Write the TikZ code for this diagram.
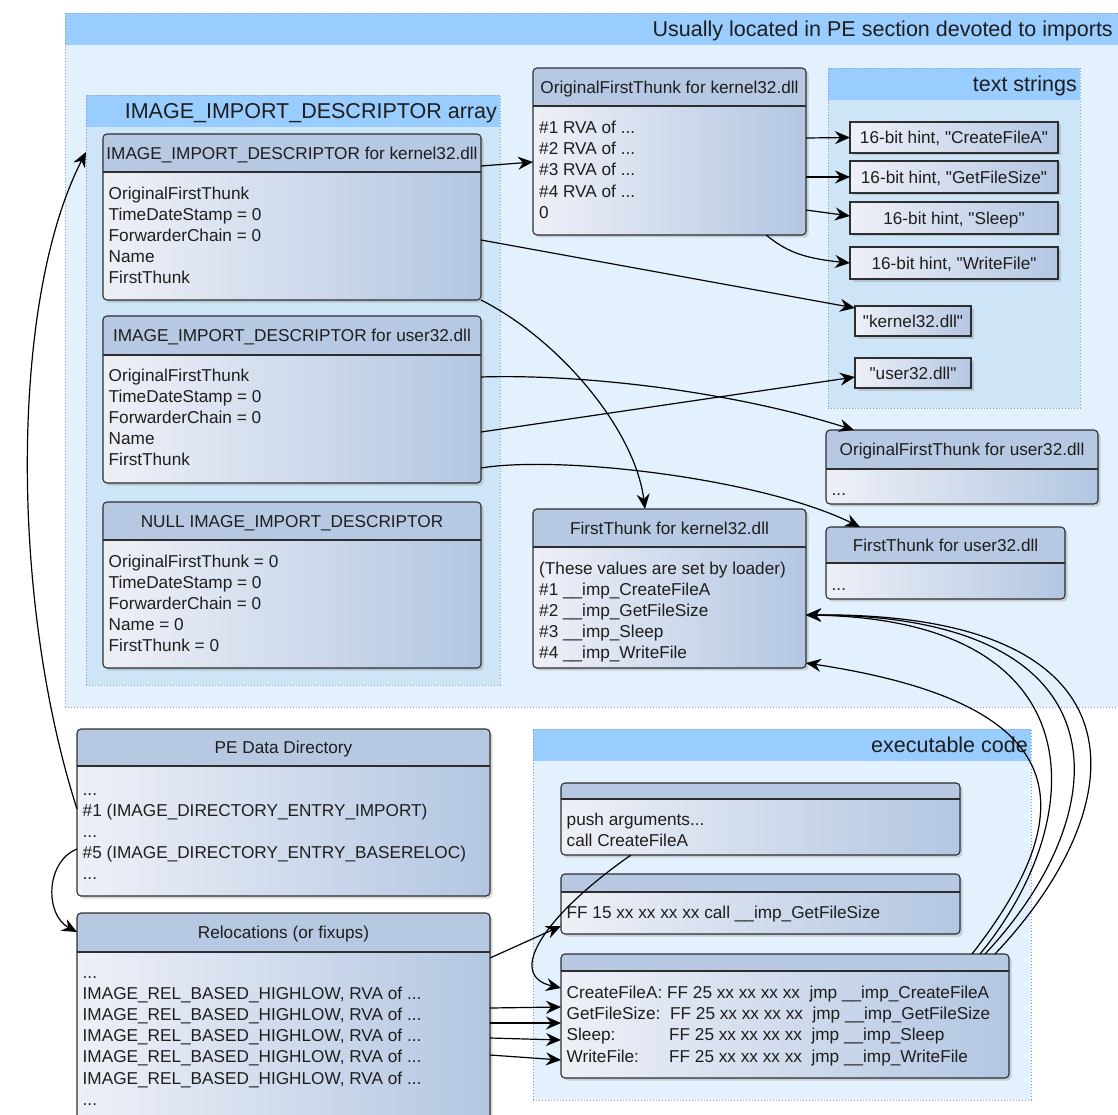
\documentclass[tikz,border=0pt]{standalone}
\usepackage{fontspec}
\newfontfamily\lsans{Liberation Sans}
\usetikzlibrary{calc,shadows,arrows.meta}
\definecolor{outerbg}{HTML}{E2F1FD}
\definecolor{bandcol}{HTML}{99CCFF}
\definecolor{arrbg}{HTML}{CDE5F6}
\definecolor{dotcol}{HTML}{8A9BC2}
\definecolor{hdrcol}{HTML}{B6C8E2}
\definecolor{bodyL}{HTML}{EEF0F7}
\definecolor{bodyR}{HTML}{B3C6E2}
\definecolor{boxline}{HTML}{2E2E2E}
\definecolor{txtcol}{HTML}{1E1E1E}
\newcommand{\myBody}{\lsans\fontsize{17.2}{21.2}\selectfont}
\newcommand{\myTitle}{\lsans\fontsize{21.5}{26}\selectfont}
\tikzset{myarrowtip/.tip={Stealth[length=15pt, width=13pt, inset=5pt]}}
\begin{document}
\begin{tikzpicture}[x=1pt,y=-1pt,
 cont/.style={draw=dotcol, dash pattern=on 1pt off 2pt, line width=0.9pt, fill=#1,
   anchor=north west, inner sep=0pt, outer sep=0pt,
   path picture={\fill[bandcol, sharp corners] (path picture bounding box.north west) rectangle ([yshift=-32pt]path picture bounding box.north east);}},
 umlbox/.style={draw=boxline, line width=1.1pt, rounded corners=4pt, left color=bodyL, right color=bodyR,
   anchor=north west, inner sep=0pt, outer sep=0pt,
   drop shadow={opacity=0.3, shadow xshift=2.5pt, shadow yshift=-2.5pt},
   path picture={\fill[hdrcol, sharp corners] (path picture bounding box.north west) rectangle ([yshift=-#1pt]path picture bounding box.north east);
     \draw[boxline, line width=1.1pt, sharp corners] ([yshift=-#1pt]path picture bounding box.north west) -- ([yshift=-#1pt]path picture bounding box.north east);}},
 strbox/.style={draw=boxline, line width=1.1pt, left color=bodyL, right color=bodyR,
   anchor=north west, inner sep=0pt, outer sep=0pt, text=txtcol, font=\myBody,
   text height=12.3pt, text depth=0pt,
   drop shadow={opacity=0.3, shadow xshift=2.5pt, shadow yshift=-2.5pt}},
 hdrtxt/.style={font=\myBody, text=txtcol, inner sep=0pt, text height=12.3pt, text depth=0pt, anchor=center},
 bodytxt/.style={font=\myBody, text=txtcol, inner sep=0pt, align=left, anchor=north west},
 ttl/.style={font=\myTitle, text=txtcol, inner sep=0pt, text height=15.4pt, text depth=0pt, anchor=east},
 arw/.style={draw=black, line width=1.2pt, -myarrowtip}
]
\useasboundingbox (0,0) rectangle (1118,1115);

% containers
\node[cont=outerbg, minimum width=1060pt, minimum height=694pt] (outer) at (65,13) {};
\node[ttl] (outert) at (1113,29) {Usually located in PE section devoted to imports};
\node[cont=arrbg, minimum width=414pt, minimum height=590pt] (arr) at (86,95) {};
\node[ttl] (arrt) at (497,111) {IMAGE\_IMPORT\_DESCRIPTOR array};
\node[cont=arrbg, minimum width=252pt, minimum height=340pt] (txts) at (828,68) {};
\node[ttl] (txtst) at (1077,84) {text strings};
\node[cont=outerbg, minimum width=498pt, minimum height=371pt] (exe) at (533,729) {};
\node[ttl] (exet) at (1028,745) {executable code};

% descriptor boxes
\node[umlbox=38, minimum width=378pt, minimum height=166pt] (k32) at (103,134) {};
\node[hdrtxt] (k32h) at ($(k32.north)+(0,19)$) {IMAGE\_IMPORT\_DESCRIPTOR for kernel32.dll};
\node[bodytxt] (k32b) at ($(k32.north west)+(5.5,50)$) {\strut OriginalFirstThunk\\TimeDateStamp = 0\\ForwarderChain = 0\\Name\\FirstThunk};

\node[umlbox=39, minimum width=378pt, minimum height=167pt] (u32) at (103,316) {};
\node[hdrtxt] (u32h) at ($(u32.north)+(0,19.5)$) {IMAGE\_IMPORT\_DESCRIPTOR for user32.dll};
\node[bodytxt] (u32b) at ($(u32.north west)+(5.5,50)$) {\strut OriginalFirstThunk\\TimeDateStamp = 0\\ForwarderChain = 0\\Name\\FirstThunk};

\node[umlbox=38, minimum width=378pt, minimum height=166pt] (nul) at (103,502) {};
\node[hdrtxt] (nulh) at ($(nul.north)+(0,19)$) {NULL IMAGE\_IMPORT\_DESCRIPTOR};
\node[bodytxt] (nulb) at ($(nul.north west)+(5.5,50)$) {\strut OriginalFirstThunk = 0\\TimeDateStamp = 0\\ForwarderChain = 0\\Name = 0\\FirstThunk = 0};

% thunk boxes
\node[umlbox=38, minimum width=273pt, minimum height=167pt] (oftk) at (533,68) {};
\node[hdrtxt] (oftkh) at ($(oftk.north)+(0,19)$) {OriginalFirstThunk for kernel32.dll};
\node[bodytxt] (oftkb) at ($(oftk.north west)+(6,50.5)$) {\strut\#1 RVA of ...\\\#2 RVA of ...\\\#3 RVA of ...\\\#4 RVA of ...\\0};

\node[umlbox=39, minimum width=272pt, minimum height=74pt] (oftu) at (826,430) {};
\node[hdrtxt] (oftuh) at ($(oftu.north)+(0,19.5)$) {OriginalFirstThunk for user32.dll};
\node[bodytxt] (oftub) at ($(oftu.north west)+(5.5,50)$) {\strut...};

\node[umlbox=36, minimum width=239pt, minimum height=72pt] (ftu) at (826,527) {};
\node[hdrtxt] (ftuh) at ($(ftu.north)+(0,18)$) {FirstThunk for user32.dll};
\node[bodytxt] (ftub) at ($(ftu.north west)+(5.5,48)$) {\strut...};

\node[umlbox=38, minimum width=273pt, minimum height=159pt] (ftk) at (533,509) {};
\node[hdrtxt] (ftkh) at ($(ftk.north)+(0,19)$) {FirstThunk for kernel32.dll};
\node[bodytxt] (ftkb) at ($(ftk.north west)+(6,50)$) {\strut(These values are set by loader)\\\#1 \_\_imp\_CreateFileA\\\#2 \_\_imp\_GetFileSize\\\#3 \_\_imp\_Sleep\\\#4 \_\_imp\_WriteFile};

% strings
\node[strbox, minimum width=208pt, minimum height=31pt] (s1) at (850,122) {16-bit hint, "CreateFileA"};
\node[strbox, minimum width=208pt, minimum height=32pt] (s2) at (850,161) {16-bit hint, "GetFileSize"};
\node[strbox, minimum width=208pt, minimum height=32pt] (s3) at (850,202) {16-bit hint, "Sleep"};
\node[strbox, minimum width=208pt, minimum height=32pt] (s4) at (850,247) {16-bit hint, "WriteFile"};
\node[strbox, minimum width=116pt, minimum height=30pt] (sk) at (855,306) {"kernel32.dll"};
\node[strbox, minimum width=116pt, minimum height=30pt] (su) at (855,358) {"user32.dll"};

% PE data directory and relocations
\node[umlbox=37, minimum width=413pt, minimum height=167pt] (ped) at (77,729) {};
\node[hdrtxt] (pedh) at ($(ped.north)+(0,18.5)$) {PE Data Directory};
\node[bodytxt] (pedb) at ($(ped.north west)+(5.5,51)$) {\strut...\\\#1 (IMAGE\_DIRECTORY\_ENTRY\_IMPORT)\\...\\\#5 (IMAGE\_DIRECTORY\_ENTRY\_BASERELOC)\\...};

\node[umlbox=39, minimum width=413pt, minimum height=225pt] (rel) at (77,913) {};
\node[hdrtxt] (relh) at ($(rel.north)+(0,19.5)$) {Relocations (or fixups)};
\node[bodytxt] (relb) at ($(rel.north west)+(5.5,50)$) {\strut...\\IMAGE\_REL\_BASED\_HIGHLOW, RVA of ...\\IMAGE\_REL\_BASED\_HIGHLOW, RVA of ...\\IMAGE\_REL\_BASED\_HIGHLOW, RVA of ...\\IMAGE\_REL\_BASED\_HIGHLOW, RVA of ...\\IMAGE\_REL\_BASED\_HIGHLOW, RVA of ...\\...};

% code boxes
\node[umlbox=16, minimum width=399pt, minimum height=72pt] (c1) at (561,783) {};
\node[bodytxt] (c1b) at ($(c1.north west)+(5.5,27.4)$) {\strut push arguments...\\call CreateFileA};
\node[umlbox=18, minimum width=399pt, minimum height=60pt] (c2) at (561,874) {};
\node[bodytxt] (c2b) at ($(c2.north west)+(5.5,29.4)$) {\strut FF 15 xx xx xx xx call \_\_imp\_GetFileSize};
\node[umlbox=17, minimum width=448pt, minimum height=124pt] (c3) at (561,954) {};
\node[bodytxt] (c3b) at ($(c3.north west)+(5.5,29.4)$) {\strut\makebox[100.5pt][l]{CreateFileA:}FF 25 xx xx xx xx\hspace{9.5pt}jmp \_\_imp\_CreateFileA\\
\makebox[103.5pt][l]{GetFileSize:}FF 25 xx xx xx xx\hspace{9.5pt}jmp \_\_imp\_GetFileSize\\
\makebox[102.5pt][l]{Sleep:}FF 25 xx xx xx xx\hspace{9.5pt}jmp \_\_imp\_Sleep\\
\makebox[102.5pt][l]{WriteFile:}FF 25 xx xx xx xx\hspace{9.5pt}jmp \_\_imp\_WriteFile};

% connectors
\draw[arw] ($(k32.north east)+(0,32)$) -- ($(oftk.north west)+(0,94)$);
\draw[arw] ($(k32.north east)+(0,106)$) -- ($(sk.north west)+(0,2)$);
\draw[arw] (k32.south east) .. controls (560,340) and (635,430) .. ($(ftk.north west)+(112,0)$);
\draw[arw] ($(oftk.north east)+(0,70)$) -- (s1.west);
\draw[arw] ($(oftk.north east)+(0,109)$) -- (s2.west);
\draw[arw] ($(oftk.north east)+(0,142)$) -- ($(s3.west)+(0,-2)$);
\draw[arw] ($(oftk.south west)+(233,0)$) .. controls (785,250) and (800,258) .. (s4.west);
\draw[arw] ($(u32.north east)+(0,61)$) .. controls (570,374) and (720,388) .. ($(oftu.north west)+(28,0)$);
\draw[arw] ($(u32.north east)+(0,116)$) -- ($(su.west)+(0,4)$);
\draw[arw] ($(u32.north east)+(0,152)$) .. controls (560,455) and (760,478) .. ($(ftu.north west)+(34,0)$);
\draw[arw] ($(ped.north west)+(0,80)$) .. controls (10,600) and (10,300) .. ($(arr.north west)+(0,57)$);
\draw[arw] ($(ped.north west)+(0,120)$) .. controls (45,862) and (45,915) .. ($(rel.north west)+(0,19)$);
\draw[arw] ($(c1.south west)+(70,0)$) .. controls (545,915) and (505,975) .. ($(c3.north west)+(0,34)$);
\draw[arw] ($(rel.north east)+(0,45)$) -- ($(c2.south west)+(0,-8)$);
\draw[arw] ($(rel.north east)+(0,95)$) -- ($(c3.north west)+(0,53)$);
\draw[arw] ($(rel.north east)+(0,110)$) -- ($(c3.north west)+(0,69)$);
\draw[arw] ($(rel.north east)+(0,125)$) -- ($(c3.north west)+(0,86)$);
\draw[arw] ($(rel.north east)+(0,142)$) -- ($(c3.north west)+(0,106)$);
\draw[arw] ($(c3.north east)+(-37,0)$) .. controls (1100,790) and (1050,700) .. ($(ftk.south east)+(0,-5)$);
\draw[arw] ($(c3.north east)+(-29,0)$) .. controls (1090,820) and (1100,620) .. ($(ftk.north east)+(0,106)$);
\draw[arw] ($(c3.north east)+(-24,0)$) .. controls (1120,810) and (1130,615) .. ($(ftk.north east)+(0,106)$);
\draw[arw] ($(c3.north east)+(-14,0)$) .. controls (1140,800) and (1150,612) .. ($(ftk.north east)+(0,106)$);
\end{tikzpicture}
\end{document}
